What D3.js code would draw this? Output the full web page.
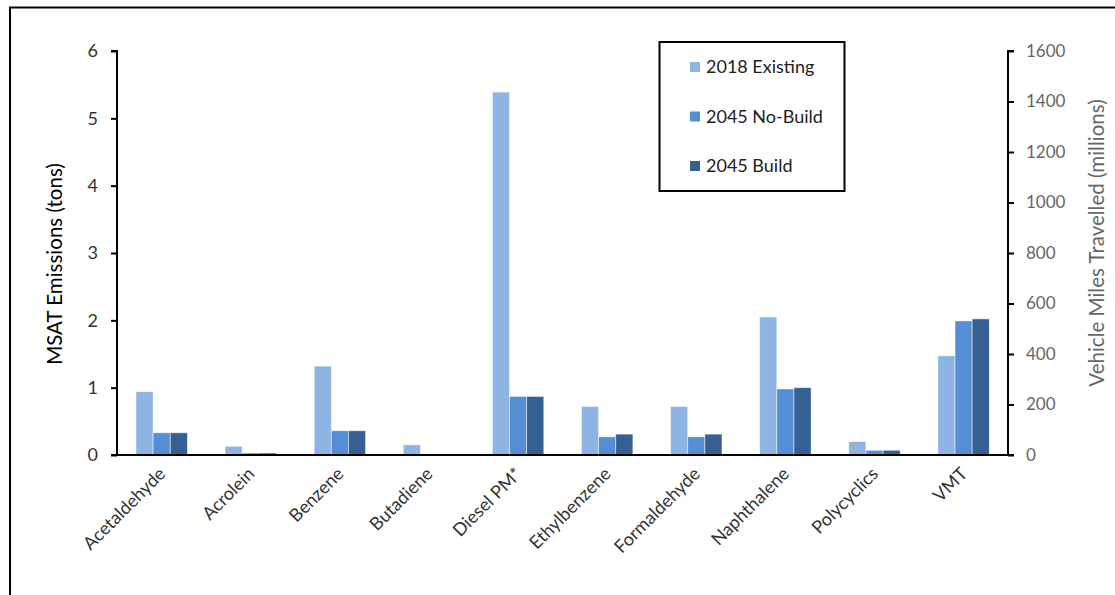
<!DOCTYPE html>
<html><head><meta charset="utf-8">
<script src="https://cdn.jsdelivr.net/npm/d3@7"></script>
<style>body{margin:0;background:#fff}svg{display:block}text{font-family:Lato,"Open Sans",sans-serif}</style>
</head><body>
<svg id="c" width="1115" height="595"></svg>
<script>
const categories = ["Acetaldehyde","Acrolein","Benzene","Butadiene","Diesel PM*","Ethylbenzene","Formaldehyde","Naphthalene","Polycyclics","VMT"];
const seriesNames = ["2018 Existing","2045 No-Build","2045 Build"];
const existing2018 = [0.94,0.13,1.32,0.15,5.39,0.72,0.72,2.05,0.20,393];
const noBuild2045  = [0.33,0.03,0.36,0.00,0.87,0.27,0.27,0.98,0.07,531];
const build2045    = [0.33,0.03,0.36,0.00,0.87,0.31,0.31,1.00,0.07,539];
const leftTicks = [0,1,2,3,4,5,6];
const rightTicks = [0,200,400,600,800,1000,1200,1400,1600];
const colors = ["#8EB4E3","#558ED5","#376092"];

const svg = d3.select("#c");
const X0=117, X1=1008, YB=455, YT=51;
const x = d3.scaleBand().domain(categories).range([X0,X1]).padding(0);
const bw = x.bandwidth();
const xs = d3.scaleBand().domain(seriesNames).range([bw*0.213, bw*0.79]).padding(0);
const yL = d3.scaleLinear().domain([0,6]).range([YB,YT]);
const yR = d3.scaleLinear().domain([0,1600]).range([YB,YT]);

// frame
svg.append("path").attr("d","M10,595 L10,7.5 L1115,7.5").attr("fill","none").attr("stroke","#000").attr("stroke-width",2);

const data = [existing2018,noBuild2045,build2045];
categories.forEach((c,i)=>{
  const scale = c==="VMT" ? yR : yL;
  seriesNames.forEach((s,j)=>{
    const v = data[j][i];
    svg.append("rect")
      .attr("x", x(c)+xs(s)).attr("width", xs.bandwidth())
      .attr("y", scale(v)).attr("height", YB-scale(v))
      .attr("fill", colors[j]).attr("stroke","rgba(255,255,255,0.6)").attr("stroke-width",0.8);
  });
});

// left axis
const gL = svg.append("g").attr("transform",`translate(${X0},0)`)
  .call(d3.axisLeft(yL).tickValues(leftTicks).tickSize(6).tickPadding(13).tickFormat(d3.format("d")));
gL.select(".domain").attr("stroke","#000").attr("stroke-width",2).attr("d",`M-6,${YT}H0V${YB}`);
gL.selectAll(".tick line").attr("stroke","#000").attr("stroke-width",2);
gL.selectAll(".tick text").attr("fill","#333").style("font-size","18px");

// right axis
const gR = svg.append("g").attr("transform",`translate(${X1},0)`)
  .call(d3.axisRight(yR).tickValues(rightTicks).tickSize(6).tickPadding(12).tickFormat(d3.format("d")));
gR.select(".domain").attr("stroke","#000").attr("stroke-width",2).attr("d",`M6,${YT}H0V${YB}`);
gR.selectAll(".tick line").attr("stroke","#000").attr("stroke-width",2);
gR.selectAll(".tick text").attr("fill","#666").style("font-size","17px");

// bottom axis
const gB = svg.append("g").attr("transform",`translate(0,${YB})`)
  .call(d3.axisBottom(x).tickSize(0).tickPadding(0));
gB.select(".domain").attr("stroke","#000").attr("stroke-width",2).attr("d",`M${X0-6},0H${X1+6}`);
gB.selectAll(".tick text")
  .attr("fill","#333").style("font-size","18px")
  .attr("text-anchor","end").attr("dy",0).attr("y",0)
  .attr("transform","translate(5,20) rotate(-45)");

// axis titles
svg.append("text").attr("transform",`translate(62,264) rotate(-90)`)
  .attr("text-anchor","middle").attr("fill","#000").style("font-size","20.5px").text("MSAT Emissions (tons)");
svg.append("text").attr("transform",`translate(1104,243) rotate(-90)`)
  .attr("text-anchor","middle").attr("fill","#666").style("font-size","20.5px").text("Vehicle Miles Travelled (millions)");

// legend
const lg = svg.append("g");
lg.append("rect").attr("x",659.5).attr("y",42).attr("width",185).attr("height",149)
  .attr("fill","#fff").attr("stroke","#000").attr("stroke-width",2);
seriesNames.forEach((s,j)=>{
  const yy = 67 + j*49.5;
  lg.append("rect").attr("x",690).attr("y",yy-5).attr("width",10).attr("height",10).attr("fill",colors[j]);
  lg.append("text").attr("x",706).attr("y",yy+6).attr("fill","#222").style("font-size","18px").text(s);
});
</script>
</body></html>
